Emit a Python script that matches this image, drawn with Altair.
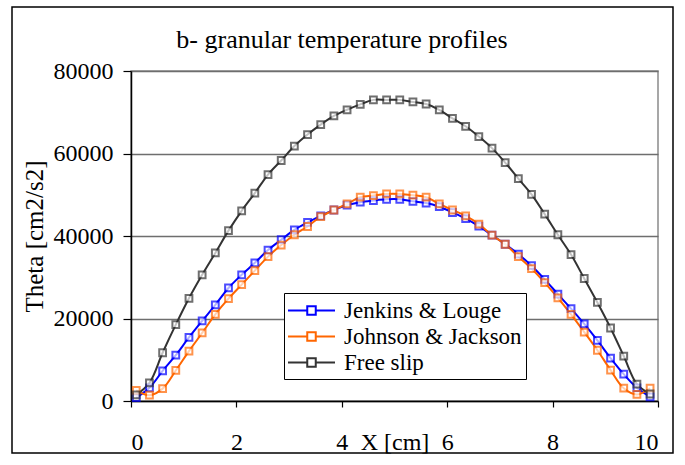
import altair as alt
import pandas as pd

# ---- data ----
x_cm = [0.1 + 0.25 * i for i in range(40)]
series_names = ["Jenkins & Louge", "Johnson & Jackson", "Free slip"]
series_colors = ["#0000FF", "#FF6600", "#333333"]

jenkins = [800, 3200, 7300, 11100, 15400, 19400, 23300, 27400, 30600, 33500,
           36600, 39100, 41500, 43300, 44900, 46300, 47500, 48200, 48600, 48900,
           48900, 48400, 48000, 47100, 45700, 44200, 42400, 40200, 38000, 35600,
           32800, 29500, 25900, 22400, 18700, 14700, 10400, 6500, 3200, 1000]
johnson = [2600, 1400, 3000, 7400, 12100, 16500, 21000, 24800, 28200, 31600,
           35000, 37800, 40300, 42300, 44700, 46300, 47800, 49400, 49800, 50200,
           50200, 49900, 49400, 47800, 46300, 44900, 42900, 40200, 38000, 35000,
           32100, 28700, 25000, 21000, 16700, 12300, 7500, 3100, 1600, 3100]
freeslip = [1500, 4400, 11700, 18500, 24900, 30600, 35900, 41300, 46100, 50400,
            54900, 58300, 61800, 64600, 67000, 69100, 70600, 71900, 73000, 73000,
            73000, 72500, 72000, 70600, 68500, 66600, 64100, 61300, 57800, 53900,
            50100, 45300, 40300, 35500, 29700, 23900, 17700, 10900, 4100, 1700]

x_ticks = [0, 2, 4, 6, 8, 10]
y_ticks = [0, 20000, 40000, 60000, 80000]
chart_title = "b- granular temperature profiles"

rows = []
for name, vals in zip(series_names, [jenkins, johnson, freeslip]):
    for xv, yv in zip(x_cm, vals):
        rows.append({"x": xv, "theta": yv, "series": name})
df = pd.DataFrame(rows)

FONT = "Liberation Serif"
color_scale = alt.Scale(domain=series_names, range=series_colors)

legend = alt.Legend(
    title=None,
    orient="none",
    legendX=153,
    legendY=222,
    labelFont=FONT,
    labelFontSize=23,
    labelColor="black",
    labelLimit=0,
    labelOffset=19,
    symbolType="M-1.88,0L-0.34,0M0.34,0L1.88,0M-0.34,-0.34L0.34,-0.34L0.34,0.34L-0.34,0.34Z",
    symbolSize=625,
    symbolOffset=10,
    symbolStrokeWidth=2,
    symbolFillColor="white",
    strokeColor="black",
    fillColor="white",
    padding=4,
    rowPadding=0,
)

x_enc = alt.X(
    "x:Q",
    scale=alt.Scale(domain=[0, 10], nice=False),
    axis=alt.Axis(
        values=x_ticks,
        title="X [cm]",
        grid=False,
        tickSize=6,
        labelPadding=23,
        titleY=29,
        titleBaseline="top",
        titleFontWeight="normal",
    ),
)
y_enc = alt.Y(
    "theta:Q",
    scale=alt.Scale(domain=[0, 80000], nice=False),
    axis=alt.Axis(
        values=y_ticks,
        format="d",
        title="Theta [cm2/s2]",
        grid=True,
        tickSize=8,
        labelPadding=10,
        titleX=-97,
        titleY=165,
        titleAngle=270,
        titleAlign="center",
        titleBaseline="middle",
        titleFontWeight="normal",
        titleFontSize=25,
    ),
)

lines = alt.Chart(df).mark_line(interpolate="catmull-rom").encode(
    x=x_enc,
    y=y_enc,
    color=alt.Color("series:N", scale=color_scale, legend=legend),
    strokeWidth=alt.StrokeWidth(
        "series:N",
        scale=alt.Scale(domain=series_names, range=[2, 2, 1.5]),
        legend=None,
    ),
)

points = alt.Chart(df).mark_point(shape="square", filled=False, size=46).encode(
    x="x:Q",
    y="theta:Q",
    color=alt.Color("series:N", scale=color_scale, legend=None),
    fill=alt.value("white"),
    strokeWidth=alt.StrokeWidth(
        "series:N",
        scale=alt.Scale(domain=series_names, range=[1.8, 1.8, 1.5]),
        legend=None,
    ),
)

one_row = pd.DataFrame({"label": [chart_title]})

frame = alt.Chart(one_row).mark_rect(
    filled=False, stroke="black", strokeWidth=1.5
).encode(
    x=alt.value(-119), x2=alt.value(542), y=alt.value(-64), y2=alt.value(382)
)

title_text = alt.Chart(one_row).mark_text(
    font=FONT, fontSize=26, color="black", align="center", baseline="alphabetic"
).encode(
    text="label:N", x=alt.value(211), y=alt.value(-23)
)

chart = alt.layer(frame, title_text, lines, points).properties(
    width=527,
    height=330,
    background="white",
    autosize=alt.AutoSizeParams(type="none"),
    padding={"left": 131, "top": 71, "right": 27, "bottom": 64},
).configure_view(
    stroke="#8a8a8a", strokeWidth=1.5
).configure_axis(
    labelFont=FONT,
    labelFontSize=24,
    labelColor="black",
    titleFont=FONT,
    titleFontSize=24,
    titleColor="black",
    domainColor="black",
    domainWidth=1.5,
    tickColor="black",
    tickWidth=1.2,
    gridColor="#6e6e6e",
    gridWidth=1.3,
).configure_legend(
    labelFont=FONT,
    labelFontSize=23,
    labelColor="black",
).configure_text(font=FONT)

chart.save("out.html", embed_options={"renderer": "svg", "actions": False})
